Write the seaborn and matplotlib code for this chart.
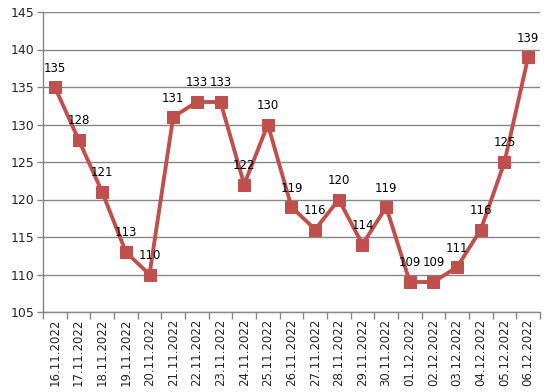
import matplotlib
matplotlib.use("Agg")
import matplotlib.pyplot as plt
import seaborn as sns
import numpy as np
import pandas as pd

dates = ["16.11.2022", "17.11.2022", "18.11.2022", "19.11.2022", "20.11.2022",
         "21.11.2022", "22.11.2022", "23.11.2022", "24.11.2022", "25.11.2022",
         "26.11.2022", "27.11.2022", "28.11.2022", "29.11.2022", "30.11.2022",
         "01.12.2022", "02.12.2022", "03.12.2022", "04.12.2022", "05.12.2022",
         "06.12.2022"]
values = [135, 128, 121, 113, 110, 131, 133, 133, 122, 130, 119, 116, 120, 114,
          119, 109, 109, 111, 116, 125, 139]
yticks = [105, 110, 115, 120, 125, 130, 135, 140, 145]

sns.set_style("white")
plt.rcParams['font.family'] = ['DejaVu Sans']

df = pd.DataFrame({"idx": np.arange(len(dates)), "value": values})

fig = plt.figure(figsize=(5.49, 3.92), dpi=100)
ax = fig.add_axes([43/549, 80/392, 497/549, 300/392])

color = "#C0504D"
sns.lineplot(data=df, x="idx", y="value", ax=ax, color=color, linewidth=2.8,
             marker="s", markersize=8.5, markeredgecolor=color, markerfacecolor=color)

for i, v in enumerate(values):
    ax.annotate(str(v), (i, v), xytext=(0, 9), textcoords="offset points",
                ha="center", va="bottom", fontsize=8.5, color="black")

ax.set_xlim(-0.5, len(dates) - 0.5)
ax.set_ylim(105, 145)
ax.set_yticks(yticks)
ax.set_yticklabels([str(t) for t in yticks], fontsize=9)
ax.set_xticks(np.arange(len(dates)))
ax.set_xticklabels(dates, rotation=90, fontsize=8.5)
ax.set_xticks(np.arange(-0.5, len(dates)), minor=True)
ax.tick_params(axis="x", which="major", length=0, pad=5)
ax.tick_params(axis="x", which="minor", length=5, color="#868686", width=1, direction="out", bottom=True)
ax.tick_params(axis="y", length=4, color="#868686", width=1, direction="out", left=True, pad=2)
ax.set_xlabel("")
ax.set_ylabel("")

ax.grid(axis="y", color="#868686", linewidth=1)
ax.grid(axis="x", visible=False)
ax.set_axisbelow(True)
for s in ["top", "right"]:
    ax.spines[s].set_visible(False)
for s in ["left", "bottom"]:
    ax.spines[s].set_color("#868686")
    ax.spines[s].set_linewidth(1)

fig.savefig("out.png", dpi=100)
